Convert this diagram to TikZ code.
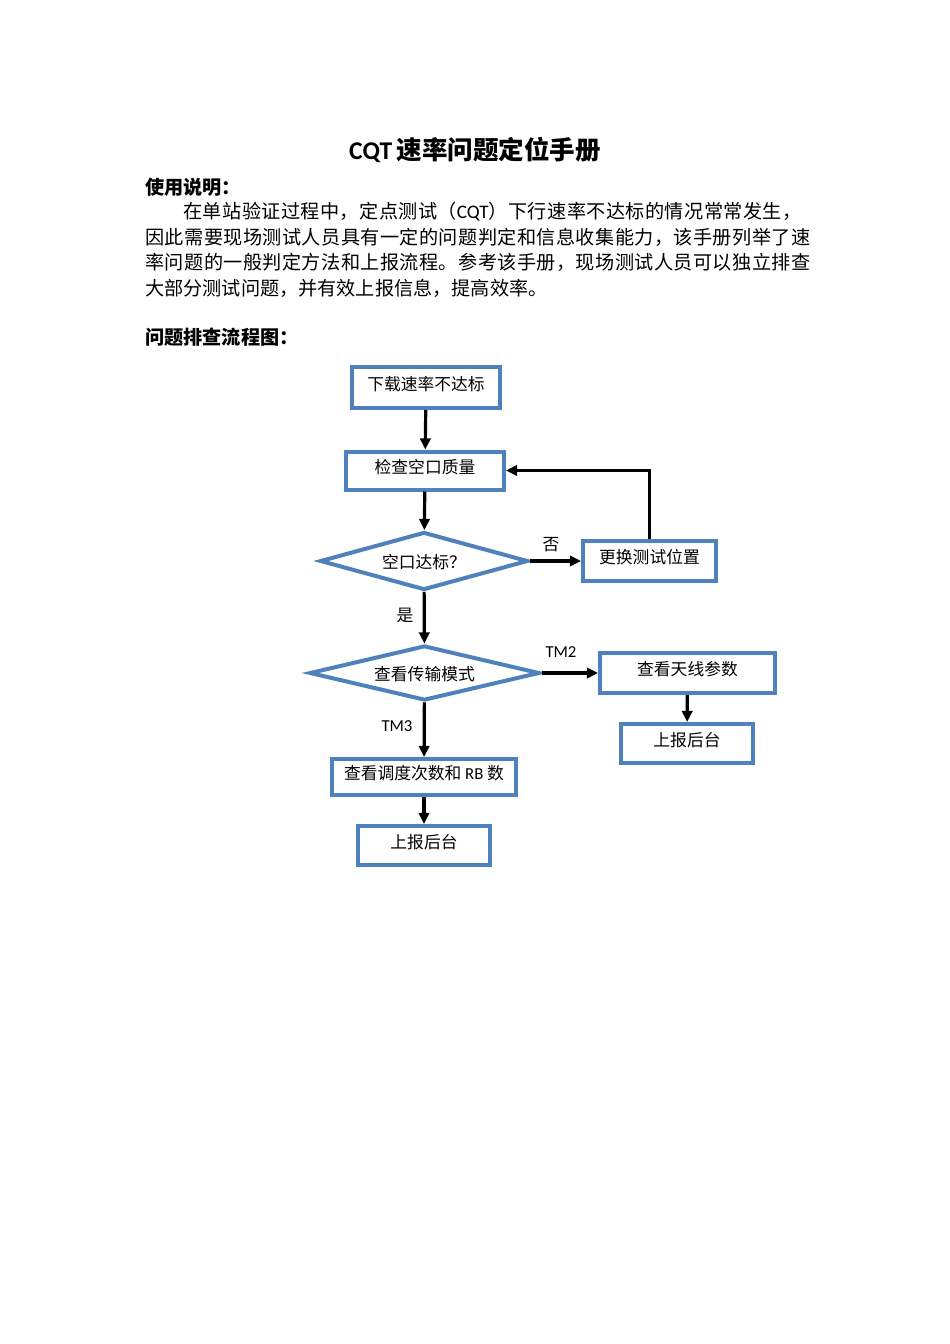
\documentclass[tikz,border=0pt]{standalone}
\usepackage{fontspec}
\setmainfont{Noto Sans CJK SC}
\newfontfamily\latin{Carlito}
\usepackage{xcolor}
\usetikzlibrary{arrows.meta, positioning, calc, shapes.geometric}

\newdimen\pxu
\pxu=0.6266pt
\definecolor{boxblue}{RGB}{79,129,189}

\tikzset{
  flowbox/.style={draw=boxblue, line width=2.5pt, rectangle, inner sep=0pt,
    text height=0.83em, text depth=0.49em,
    font=\fontsize{10.5pt}{12pt}\selectfont},
  decision/.style={draw=boxblue, line width=2.5pt, diamond, aspect=3.5, inner sep=0pt,
    text height=1.05em, text depth=0.07em,
    font=\fontsize{10.5pt}{12pt}\selectfont},
  flowarrow/.style={line width=2pt, -{Triangle[length=7pt,width=6.5pt]}},
  branch/.style={inner sep=0pt, font=\fontsize{10.5pt}{12pt}\selectfont},
  heading/.style={anchor=west, inner sep=0pt, font=\fontsize{12pt}{14pt}\selectfont\bfseries},
  bodyline/.style={anchor=west, inner sep=0pt, font=\fontsize{12pt}{14pt}\selectfont},
  % full (justified) lines get a little extra letter spacing
  fullline/.style={bodyline, font=\fontsize{12pt}{14pt}\selectfont\addfontfeatures{LetterSpace=2.2}}
}

\begin{document}
\begin{tikzpicture}[x=1\pxu, y=-1\pxu]
  \useasboundingbox (0,0) rectangle (950,1344);
  \fill[white] (0,0) rectangle (950,1344);

  % title and introduction
  \node[inner sep=0pt, font=\fontsize{16pt}{19pt}\selectfont\bfseries] (title) at (475,150)
    {{\latin CQT}\,速率问题定位手册};
  \node[heading] (usage) at (145,187) {使用说明：};
  \node[fullline] (line1) at (183,212)
    {在单站验证过程中，定点测试（{\latin CQT}）下行速率不达标的情况常常发生，};
  \node[fullline] (line2) at (145,237.5)
    {因此需要现场测试人员具有一定的问题判定和信息收集能力，该手册列举了速};
  \node[fullline] (line3) at (145,262.5)
    {率问题的一般判定方法和上报流程。参考该手册，现场测试人员可以独立排查};
  \node[bodyline] (line4) at (145,288) {大部分测试问题，并有效上报信息，提高效率。};
  \node[heading] (flowhead) at (145,337) {问题排查流程图：};

  % flow chart
  \node[flowbox, minimum width=148\pxu, minimum height=41\pxu] (slow) at (426,387.5) {下载速率不达标};
  \node[flowbox, minimum width=158\pxu, minimum height=38\pxu] (air) at (425,470.5) {检查空口质量};
  \node[decision, minimum width=208\pxu, minimum height=58\pxu] (airok) at (424,561) {空口达标？};
  \node[flowbox, minimum width=133\pxu, minimum height=40\pxu] (move) at (649.5,561) {更换测试位置};
  \node[decision, minimum width=230\pxu, minimum height=55\pxu] (mode) at (424.5,673) {查看传输模式};
  \node[flowbox, minimum width=175\pxu, minimum height=40\pxu] (antenna) at (687.5,673) {查看天线参数};
  \node[flowbox, minimum width=132\pxu, minimum height=39\pxu] (reportA) at (687,743.5) {上报后台};
  \node[flowbox, minimum width=184\pxu, minimum height=36\pxu] (sched) at (424,777)
    {查看调度次数和 {\latin RB} 数};
  \node[flowbox, minimum width=132\pxu, minimum height=39\pxu] (reportB) at (424,845.5) {上报后台};

  \draw[flowarrow] (slow) -- (air);
  \draw[flowarrow] (air) -- (airok);
  \draw[flowarrow] (airok) -- (move);
  \draw[flowarrow] (move.north) |- (air.east);
  \draw[flowarrow] (airok) -- (mode);
  \draw[flowarrow] (mode) -- (antenna);
  \draw[flowarrow] (antenna) -- (reportA);
  \draw[flowarrow] (mode) -- (sched);
  \draw[flowarrow] (sched) -- (reportB);

  % branch labels
  \node[branch] (no) at (551,545) {否};
  \node[branch] (yes) at (405,615) {是};
  \node[branch] (tm2) at (561,652) {\latin TM2};
  \node[branch] (tm3) at (397,726) {\latin TM3};
\end{tikzpicture}
\end{document}
